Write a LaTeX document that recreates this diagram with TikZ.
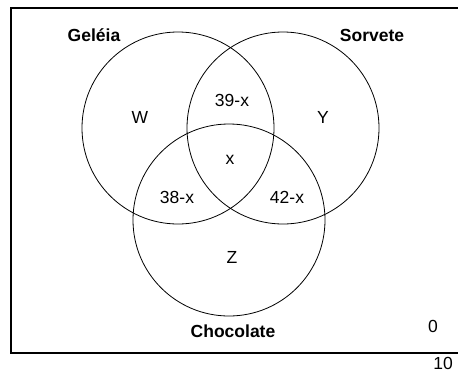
\documentclass[tikz,border=0pt]{standalone}
\usepackage{fontspec}
\setmainfont{Liberation Sans}
\begin{document}
\begin{tikzpicture}[x=1pt,y=-1pt,
  ring/.style={draw=black,line width=0.8pt},
  lab/.style={font=\fontsize{17.5}{20}\selectfont,inner sep=0pt},
  title/.style={font=\fontsize{17.5}{20}\selectfont\bfseries,inner sep=0pt},
  frame/.style={draw=black,line width=2.4pt}]
\useasboundingbox (0,0) rectangle (458,373);
\draw[frame] (458,8) -- (11,8) -- (11,353) -- (458,353);
\node[ring,circle,minimum size=192pt,inner sep=0pt] (G) at (178,128) {};
\node[ring,circle,minimum size=192pt,inner sep=0pt] (S) at (283,128) {};
\node[ring,circle,minimum size=192pt,inner sep=0pt] (C) at (229,220) {};
\node[title] (tG) at (94,35) {Geléia};
\node[title] (tS) at (372,35) {Sorvete};
\node[title] (tC) at (233,331) {Chocolate};
\node[lab] (w) at (140,117) {W};
\node[lab] (y) at (323,117) {Y};
\node[lab] (gs) at (232,100) {39-x};
\node[lab] (x) at (230,160) {x};
\node[lab] (gc) at (177,197) {38-x};
\node[lab] (sc) at (287,197) {42-x};
\node[lab] (z) at (232,257) {Z};
\node[lab] (zero) at (433,326) {0};
\node[lab] (ten) at (443,363) {10};
\end{tikzpicture}
\end{document}
